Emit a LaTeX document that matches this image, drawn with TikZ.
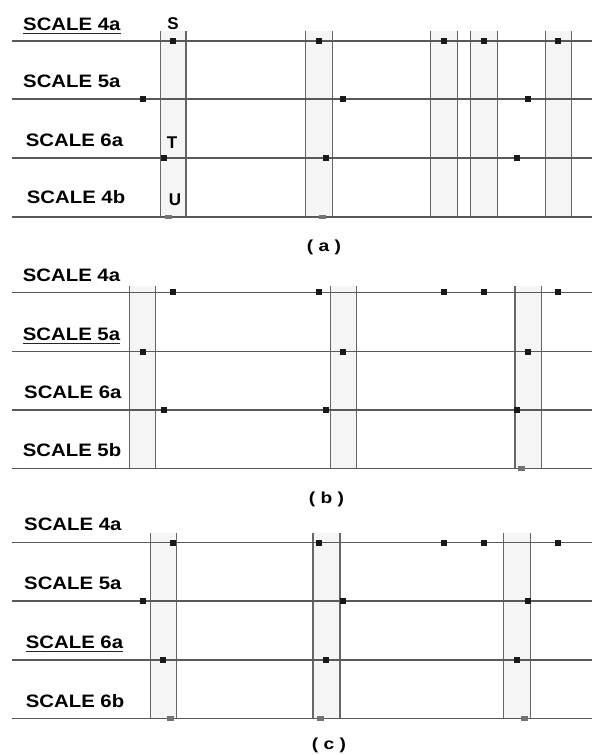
\documentclass[tikz,border=0pt]{standalone}
\usepackage{fontspec}
\setmainfont{Liberation Sans}
\newcommand{\lbl}[1]{\scalebox{1.13}[1]{#1}}
\newcommand{\pcaptext}[1]{\scalebox{1.2}[1]{#1}}
\begin{document}
\begin{tikzpicture}[x=1pt,y=-1pt,
  hline/.style={draw=black!65, line width=1.2pt},
  bandfill/.style={fill=black!4, draw=none},
  vline/.style={draw=black!60, line width=1.1pt},
  mk/.style={fill=black!90, minimum width=6.3pt, minimum height=6pt, inner sep=0pt, draw=none},
  gmk/.style={fill=black!55, minimum width=7pt, minimum height=4.5pt, inner sep=0pt, draw=none},
  lab/.style={font=\fontsize{18}{18}\selectfont\bfseries, inner sep=0pt, anchor=base west},
  ltr/.style={font=\fontsize{17}{17}\selectfont\bfseries, inner sep=0pt, anchor=base},
  pcap/.style={font=\fontsize{16}{16}\selectfont\bfseries, inner sep=0pt, anchor=base},
  uline/.style={draw=black!85, line width=1.1pt}]
\useasboundingbox (0,0) rectangle (592,755);

% ---------- panel (a)
\foreach \l/\r in {160.7/186, 305.3/332.3, 430.7/457.7, 470.7/497.3, 545.3/571.7}{
  \fill[bandfill] (\l,31) rectangle (\r,217);
  \draw[vline] (\l,31) -- (\l,217) (\r,31) -- (\r,217);}
\foreach \y in {41,99,158,217} \draw[hline] (12,\y) -- (592,\y);
\foreach \x [count=\i] in {173.3,319,443.7,483.7,558} \node[mk] (aA\i) at (\x,41) {};
\foreach \x [count=\i] in {142.7,342.7,528} \node[mk] (aB\i) at (\x,99) {};
\foreach \x [count=\i] in {163.7,326.3,517} \node[mk] (aC\i) at (\x,158) {};
\foreach \x [count=\i] in {168.3,322} \node[gmk] (aD\i) at (\x,217) {};
\node[lab] (aL1) at (23,30) {\lbl{SCALE 4a}};
\draw[uline] ([yshift=-3.3pt]aL1.base west) -- ([yshift=-3.3pt]aL1.base east);
\node[lab] (aL2) at (23,87) {\lbl{SCALE 5a}};
\node[lab] (aL3) at (25.7,146.5) {\lbl{SCALE 6a}};
\node[lab] (aL4) at (26.7,203.5) {\lbl{SCALE 4b}};
\node[ltr] (S) at (173,29.5) {S};
\node[ltr] (T) at (172,148) {T};
\node[ltr] (U) at (175,205.5) {U};
\node[pcap] (capa) at (324,251.5) {\pcaptext{( a )}};

% ---------- panel (b)
\foreach \l/\r in {129.3/155.3, 330.3/356.7, 515/541.7}{
  \fill[bandfill] (\l,286) rectangle (\r,468.7);
  \draw[vline] (\l,286) -- (\l,468.7) (\r,286) -- (\r,468.7);}
\foreach \y in {292.3,351.7,410,468.7} \draw[hline] (12,\y) -- (592,\y);
\foreach \x [count=\i] in {173,319,443.7,483.7,558} \node[mk] (bA\i) at (\x,292.3) {};
\foreach \x [count=\i] in {142.7,342.7,528} \node[mk] (bB\i) at (\x,351.7) {};
\foreach \x [count=\i] in {163.7,326.3,517} \node[mk] (bC\i) at (\x,410) {};
\node[gmk] (bD1) at (521.3,468.7) {};
\node[lab] (bL1) at (22.7,281.7) {\lbl{SCALE 4a}};
\node[lab] (bL2) at (22.7,340) {\lbl{SCALE 5a}};
\draw[uline] ([yshift=-3.3pt]bL2.base west) -- ([yshift=-3.3pt]bL2.base east);
\node[lab] (bL3) at (24,398.3) {\lbl{SCALE 6a}};
\node[lab] (bL4) at (22.7,456) {\lbl{SCALE 5b}};
\node[pcap] (capb) at (326.5,503) {\pcaptext{( b )}};

% ---------- panel (c)
\foreach \l/\r in {150.7/176.7, 313/340, 503.7/530.7}{
  \fill[bandfill] (\l,533) rectangle (\r,718.3);
  \draw[vline] (\l,533) -- (\l,718.3) (\r,533) -- (\r,718.3);}
\foreach \y in {542.7,601,660,718.3} \draw[hline] (12,\y) -- (592,\y);
\foreach \x [count=\i] in {173,319,443.7,483.7,558} \node[mk] (cA\i) at (\x,542.7) {};
\foreach \x [count=\i] in {142.7,343.3,528} \node[mk] (cB\i) at (\x,601) {};
\foreach \x [count=\i] in {163.3,326.3,517} \node[mk] (cC\i) at (\x,660) {};
\foreach \x [count=\i] in {170.3,320,524} \node[gmk] (cD\i) at (\x,718.3) {};
\node[lab] (cL1) at (24,530.7) {\lbl{SCALE 4a}};
\node[lab] (cL2) at (24,589) {\lbl{SCALE 5a}};
\node[lab] (cL3) at (25.7,648.3) {\lbl{SCALE 6a}};
\draw[uline] ([yshift=-3.3pt]cL3.base west) -- ([yshift=-3.3pt]cL3.base east);
\node[lab] (cL4) at (25.7,707.3) {\lbl{SCALE 6b}};
\node[pcap] (capc) at (329,749) {\pcaptext{( c )}};
\end{tikzpicture}
\end{document}
